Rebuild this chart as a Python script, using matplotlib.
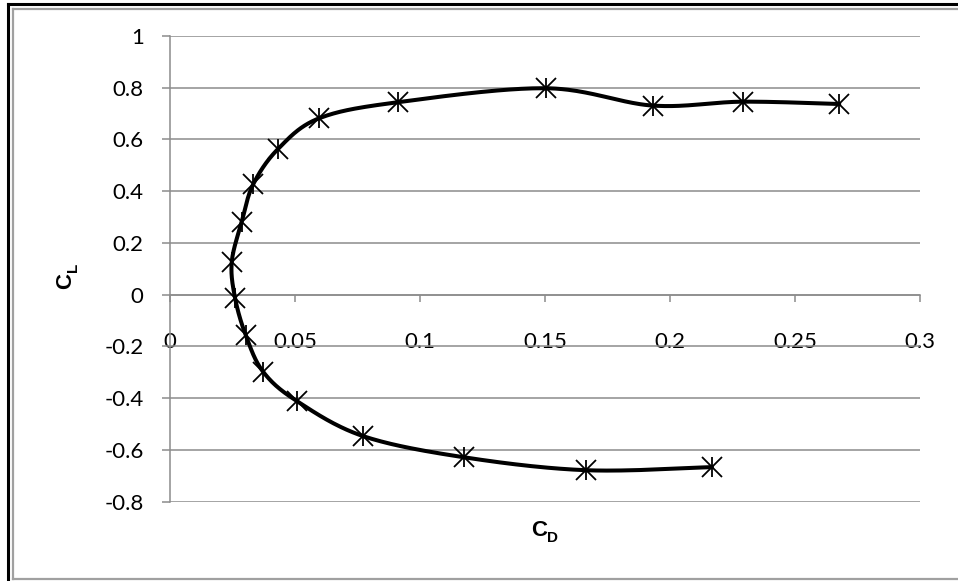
import numpy as np
import matplotlib
matplotlib.use("Agg")
import matplotlib.pyplot as plt
from matplotlib.lines import Line2D

plt.rcParams['font.family'] = ['Lato', 'DejaVu Sans']

# drag polar, ordered from negative to positive lift
cd = [0.2168, 0.1664, 0.1176, 0.0772, 0.0508, 0.0373, 0.0303, 0.0260, 0.0247,
      0.0287, 0.0333, 0.0433, 0.0597, 0.0912, 0.1504, 0.1930, 0.2290, 0.2677]
cl = [-0.667, -0.679, -0.629, -0.547, -0.412, -0.299, -0.157, -0.012, 0.126,
      0.282, 0.427, 0.564, 0.682, 0.744, 0.798, 0.731, 0.746, 0.737]

x_ticks = [0, 0.05, 0.1, 0.15, 0.2, 0.25, 0.3]
x_labels = ['0', '0.05', '0.1', '0.15', '0.2', '0.25', '0.3']
y_ticks = [-0.8, -0.6, -0.4, -0.2, 0, 0.2, 0.4, 0.6, 0.8, 1]
y_labels = ['-0.8', '-0.6', '-0.4', '-0.2', '0', '0.2', '0.4', '0.6', '0.8', '1']

GRID = '#8c8c8c'
BOLD = ['Liberation Sans', 'DejaVu Sans']


def smooth(xs, ys, n=40):
    # excel style smoothed line: bezier segments with catmull-rom handles
    p = np.column_stack([xs, ys])
    p = np.vstack([p[0], p, p[-1]])
    t = np.linspace(0, 1, n)[:, None]
    out = []
    for i in range(1, len(p) - 2):
        p0, p1, p2, p3 = p[i - 1], p[i], p[i + 1], p[i + 2]
        c1 = p1 + (p2 - p0) / 6
        c2 = p2 - (p3 - p1) / 6
        seg = ((1 - t) ** 3) * p1 + 3 * ((1 - t) ** 2) * t * c1 + 3 * (1 - t) * t ** 2 * c2 + t ** 3 * p2
        out.append(seg)
    out = np.vstack(out)
    return out[:, 0], out[:, 1]


fig = plt.figure(figsize=(9.58, 5.81), dpi=100)
W, H = 958, 581
ax = fig.add_axes([170 / W, 1 - 501.5 / H, 750 / W, 465.5 / H])

ax.set_xlim(0, 0.3)
ax.set_ylim(-0.8, 1)

sx, sy = smooth(cd, cl)
ax.plot(sx, sy, color='black', lw=2.9, solid_capstyle='round', zorder=3)
ax.plot(cd, cl, linestyle='none', marker='x', markersize=14, mew=1.3, color='black', zorder=4)
ax.plot(cd, cl, linestyle='none', marker='|', markersize=15, mew=1.3, color='black', zorder=4)

ax.set_yticks(y_ticks)
ax.set_yticklabels(y_labels)
ax.set_xticks(x_ticks)
ax.set_xticklabels(x_labels)
ax.grid(axis='y', color=GRID, lw=1.1)
ax.set_axisbelow(True)

for s in ['top', 'right']:
    ax.spines[s].set_visible(False)
ax.spines['left'].set_color(GRID)
ax.spines['bottom'].set_color(GRID)
ax.spines['left'].set_linewidth(1.1)
ax.spines['bottom'].set_linewidth(1.1)
ax.spines['bottom'].set_position(('data', 0))

ax.tick_params(axis='y', length=5.5, width=1.1, color=GRID, pad=13.5, labelsize=16)
ax.tick_params(axis='x', length=5, width=1.1, color=GRID, pad=22, labelsize=16)

# axis titles, bold with subscript
fig.text(66 / W, 1 - 281 / H, 'C', rotation=90, fontsize=16, fontweight='bold',
         family=BOLD, ha='center', va='center')
fig.text(73 / W, 1 - 267 / H, 'L', rotation=90, fontsize=11, fontweight='bold',
         family=BOLD, ha='center', va='center')
fig.text(539 / W, 1 - 531 / H, 'C', fontsize=16, fontweight='bold',
         family=BOLD, ha='center', va='center')
fig.text(553 / W, 1 - 538 / H, 'D', fontsize=11, fontweight='bold',
         family=BOLD, ha='center', va='center')

# chart frame
fig.add_artist(Line2D([8 / W, 1], [1 - 4 / H, 1 - 4 / H], transform=fig.transFigure, color='black', lw=2.2))
fig.add_artist(Line2D([8 / W, 8 / W], [0, 1 - 4 / H], transform=fig.transFigure, color='black', lw=2.2))
fig.add_artist(Line2D([13 / W, 1], [1 - 8.5 / H, 1 - 8.5 / H], transform=fig.transFigure, color='#a0a0a0', lw=1.6))
fig.add_artist(Line2D([13 / W, 13 / W], [1 - 579 / H, 1 - 8.5 / H], transform=fig.transFigure, color='#a0a0a0', lw=1.6))
fig.add_artist(Line2D([13 / W, 1], [1 - 579 / H, 1 - 579 / H], transform=fig.transFigure, color='#a0a0a0', lw=1.6))

fig.savefig('out.png', dpi=100)
